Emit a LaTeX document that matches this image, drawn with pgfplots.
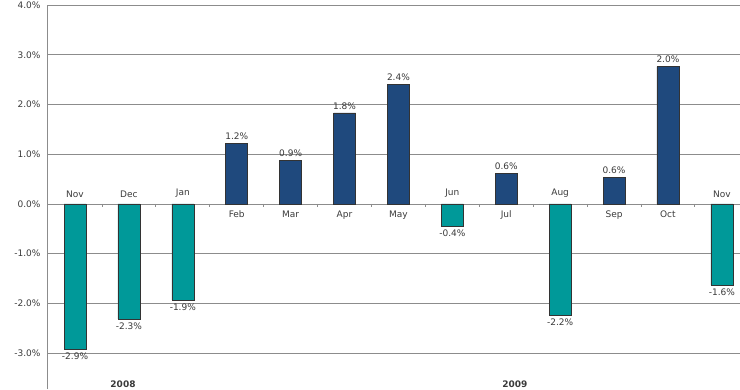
\documentclass[border=0pt]{standalone}
\usepackage{pgfplots}
\pgfplotsset{compat=1.18}
\usepackage{pgfplotstable}
\usepackage{fontspec}
\setmainfont{DejaVu Sans}
\definecolor{barblue}{HTML}{1F497D}
\definecolor{barteal}{HTML}{009999}
\definecolor{gridgray}{HTML}{8C8C8C}
\definecolor{txt}{HTML}{3A3A3A}
\newcommand{\lblfont}{\fontsize{9}{10}\selectfont}

\pgfplotstableread{
x y lab
3 1.22 1.2
4 0.88 0.9
5 1.83 1.8
6 2.41 2.4
8 0.62 0.6
10 0.54 0.6
11 2.76 2.0
}\posdata

\pgfplotstableread{
x y lab
0 -2.92 -2.9
1 -2.31 -2.3
2 -1.93 -1.9
7 -0.44 -0.4
9 -2.23 -2.2
12 -1.63 -1.6
}\negdata

\begin{document}
\begin{tikzpicture}
\begin{axis}[
  at={(47pt,0pt)}, anchor=south west,
  scale only axis, width=693pt, height=384pt,
  xmin=-0.52, xmax=12.337, ymin=-3.72, ymax=4.0,
  axis x line=none, axis y line*=left,
  y axis line style={gridgray, line width=0.8pt, -},
  ytick={-3,-2,-1,0,1,2,3,4},
  ymajorgrids, grid style={gridgray, line width=0.8pt},
  major tick length=0pt,
  /pgf/number format/assume math mode=true,
  yticklabel={\pgfmathprintnumber[fixed,fixed zerofill,precision=1]{\tick}\%},
  yticklabel style={font=\lblfont, text=txt, xshift=-3pt},
  ybar, bar width=22pt, bar shift=0pt,
  nodes near coords={\pgfmathprintnumber[fixed,fixed zerofill,precision=1]{\pgfplotspointmeta}\%},
  nodes near coords style={font=\lblfont, text=txt},
  clip=false,
]
\addplot[fill=barblue, draw=black!80, line width=0.6pt, point meta=\thisrow{lab}] table[x=x,y=y] {\posdata};
\addplot[fill=barteal, draw=black!80, line width=0.6pt, point meta=\thisrow{lab}] table[x=x,y=y] {\negdata};

\pgfplotsinvokeforeach{0.5,1.5,2.5,3.5,4.5,5.5,6.5,7.5,8.5,9.5,10.5,11.5}{
  \draw[gridgray, line width=0.8pt] (axis cs:#1,0) -- ++(0pt,-3pt);
}
% month labels: above the zero line for negative bars, below for positive
\node[font=\lblfont, text=txt, anchor=south] at ([yshift=3pt]axis cs:0,0) {Nov};
\node[font=\lblfont, text=txt, anchor=south] at ([yshift=3pt]axis cs:1,0) {Dec};
\node[font=\lblfont, text=txt, anchor=south] at ([yshift=3pt]axis cs:2,0) {Jan};
\node[font=\lblfont, text=txt, anchor=north] at ([yshift=-3pt]axis cs:3,0) {Feb};
\node[font=\lblfont, text=txt, anchor=north] at ([yshift=-3pt]axis cs:4,0) {Mar};
\node[font=\lblfont, text=txt, anchor=north] at ([yshift=-3pt]axis cs:5,0) {Apr};
\node[font=\lblfont, text=txt, anchor=north] at ([yshift=-3pt]axis cs:6,0) {May};
\node[font=\lblfont, text=txt, anchor=south] at ([yshift=3pt]axis cs:7,0) {Jun};
\node[font=\lblfont, text=txt, anchor=north] at ([yshift=-3pt]axis cs:8,0) {Jul};
\node[font=\lblfont, text=txt, anchor=south] at ([yshift=3pt]axis cs:9,0) {Aug};
\node[font=\lblfont, text=txt, anchor=north] at ([yshift=-3pt]axis cs:10,0) {Sep};
\node[font=\lblfont, text=txt, anchor=north] at ([yshift=-3pt]axis cs:11,0) {Oct};
\node[font=\lblfont, text=txt, anchor=south] at ([yshift=3pt]axis cs:12,0) {Nov};
% year labels at the bottom edge
\node[font=\lblfont\bfseries, text=txt, anchor=south, inner sep=0pt] at ([yshift=1pt]axis cs:0.89,-3.72) {2008};
\node[font=\lblfont\bfseries, text=txt, anchor=south, inner sep=0pt] at ([yshift=1pt]axis cs:8.16,-3.72) {2009};
\end{axis}
\pgfresetboundingbox
\useasboundingbox (0,0) rectangle (740pt,389pt);
\end{tikzpicture}
\end{document}
